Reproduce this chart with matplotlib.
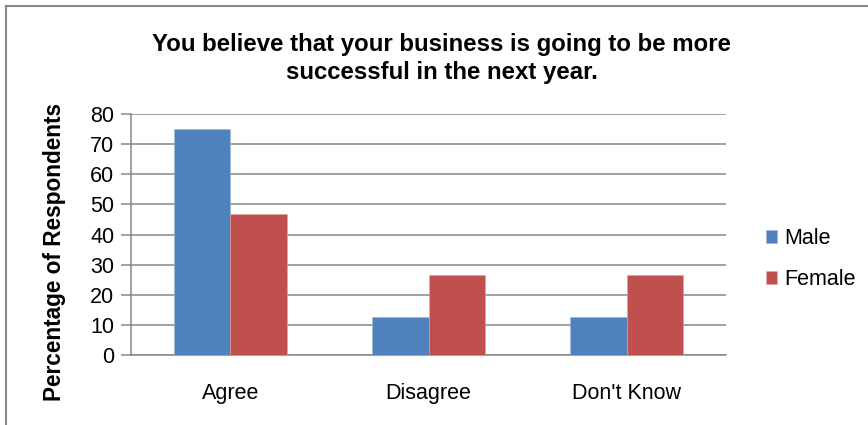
import matplotlib
matplotlib.use("Agg")
import matplotlib.pyplot as plt
import numpy as np
from matplotlib.lines import Line2D

plt.rcParams['font.family'] = ['Liberation Sans', 'DejaVu Sans']

categories = ["Agree", "Disagree", "Don't Know"]
male = [75.0, 12.5, 12.5]
female = [46.7, 26.7, 26.7]
y_ticks = [0, 10, 20, 30, 40, 50, 60, 70, 80]

grid_color = "#878787"
blue = "#4F81BD"
red = "#C0504D"

fig = plt.figure(figsize=(8.68, 4.25), dpi=100)
ax = fig.add_axes([131 / 868, 1 - 355 / 425, (726 - 131) / 868, (355 - 114) / 425])

x = np.arange(len(categories))
w = 0.285
ax.bar(x - w / 2, male, width=w, color=blue, edgecolor="#9DB7DB", linewidth=0.4, label="Male", zorder=3)
ax.bar(x + w / 2, female, width=w, color=red, edgecolor="#E0A6A4", linewidth=0.4, label="Female", zorder=3)

ax.set_xlim(-0.5, len(categories) - 0.5)
ax.set_ylim(0, 80)
ax.set_yticks(y_ticks)
ax.set_xticks(x)
ax.set_xticklabels(categories, fontsize=15.5)
ax.tick_params(axis="y", length=7, width=1.1, color=grid_color, labelsize=15.5, pad=5)
ax.tick_params(axis="x", length=0, pad=20)

ax.yaxis.grid(True, color=grid_color, linewidth=1.1, zorder=0)
ax.set_axisbelow(True)
for side in ("top", "right"):
    ax.spines[side].set_visible(False)
for side in ("left", "bottom"):
    ax.spines[side].set_color(grid_color)
    ax.spines[side].set_linewidth(1.1)

fig.text(55 / 868, 1 - 252 / 425, "Percentage of Respondents", rotation=90,
         fontsize=16.3, fontweight="bold", ha="center", va="center")

fig.text(442 / 868, 1 - 45 / 425, "You believe that your business is going to be more",
         fontsize=17.3, fontweight="bold", ha="center", va="center")
fig.text(442 / 868, 1 - 72 / 425, "successful in the next year.",
         fontsize=17.3, fontweight="bold", ha="center", va="center")

leg = fig.legend(loc="center left", bbox_to_anchor=(757 / 868, 1 - 259 / 425),
                 frameon=False, fontsize=15.5, handlelength=0.55, handleheight=0.55,
                 handletextpad=0.3, labelspacing=0.95, borderaxespad=0)

# outer chart frame (top and left edges)
fig.add_artist(Line2D([6 / 868, 1.0], [1 - 6 / 425, 1 - 6 / 425],
                      transform=fig.transFigure, color=grid_color, linewidth=1.5))
fig.add_artist(Line2D([6 / 868, 6 / 868], [0.0, 1 - 6 / 425],
                      transform=fig.transFigure, color=grid_color, linewidth=1.5))

fig.savefig("out.png", dpi=100)
